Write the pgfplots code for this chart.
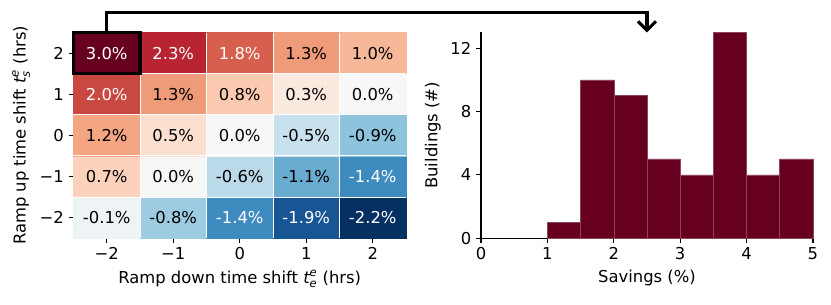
\documentclass[border=0pt]{standalone}
\usepackage{amstext}
\usepackage{fontspec}
\setmainfont{DejaVu Sans}
\usepackage{pgfplots}
\usepackage{pgfplotstable}
\pgfplotsset{compat=1.18}
\usetikzlibrary{arrows.meta}
\definecolor{darkred}{RGB}{103,0,31}
\newcommand\fs{\fontsize{11.8pt}{14pt}\selectfont}

\pgfplotstableread{
x y v t
-2 -2 -0.1 0.4773
-1 -2 -0.8 0.3182
0 -2 -1.4 0.1818
1 -2 -1.9 0.0682
2 -2 -2.2 0
-2 -1 0.7 0.6167
-1 -1 0.0 0.5
0 -1 -0.6 0.3636
1 -1 -1.1 0.25
2 -1 -1.4 0.1818
-2 0 1.2 0.7
-1 0 0.5 0.5833
0 0 0.0 0.5
1 0 -0.5 0.3864
2 0 -0.9 0.2955
-2 1 2.0 0.8333
-1 1 1.3 0.7167
0 1 0.8 0.6333
1 1 0.3 0.55
2 1 0.0 0.5
-2 2 3.0 1
-1 2 2.3 0.8833
0 2 1.8 0.8
1 2 1.3 0.7167
2 2 1.0 0.6667
}\heat

\pgfplotstableread{
x y v
-2 2 3.0
-1 2 2.3
0 2 1.8
-2 1 2.0
0 -2 -1.4
1 -2 -1.9
2 -2 -2.2
2 -1 -1.4
}\heatwhite

\pgfplotstableread{
x y v
1 2 1.3
2 2 1.0
-1 1 1.3
0 1 0.8
1 1 0.3
2 1 0.0
-2 0 1.2
-1 0 0.5
0 0 0.0
1 0 -0.5
2 0 -0.9
-2 -1 0.7
-1 -1 0.0
0 -1 -0.6
1 -1 -1.1
-2 -2 -0.1
-1 -2 -0.8
}\heatblack

\pgfplotstableread{
x n
1.0 1
1.5 10
2.0 9
2.5 5
3.0 4
3.5 13
4.0 4
4.5 5
5.0 5
}\hist

\pgfplotsset{
  common/.style={
    scale only axis,
    anchor=south west,
    tick align=outside,
    tick pos=left,
    major tick length=3.5pt,
    every tick/.style={black, line width=0.8pt},
    axis line style={line width=0.8pt},
    /pgf/number format/assume math mode=true,
    tick label style={font=\fs},
    label style={font=\fs},
  },
  colormap={RdBur}{rgb255(0cm)=(5,48,97); rgb255(1cm)=(33,102,172); rgb255(2cm)=(67,147,195); rgb255(3cm)=(146,197,222); rgb255(4cm)=(209,229,240); rgb255(5cm)=(247,247,247); rgb255(6cm)=(253,219,199); rgb255(7cm)=(244,165,130); rgb255(8cm)=(214,96,77); rgb255(9cm)=(178,24,43); rgb255(10cm)=(103,0,31)},
}

\begin{document}
\begin{tikzpicture}
\useasboundingbox (0,0) rectangle (598.3pt,218.9pt);

\begin{axis}[common,
  at={(52.9pt,47.5pt)},
  width=239.4pt, height=148pt,
  xmin=-2.5, xmax=2.5, ymin=-2.5, ymax=2.5,
  xtick={-2,-1,0,1,2}, ytick={-2,-1,0,1,2},
  xticklabels={−2,−1,0,1,2}, yticklabels={−2,−1,0,1,2},
  xlabel={Ramp down time shift $\textit{t}^{\textit{e}}_{\textit{e}}$ (hrs)},
  ylabel={Ramp up time shift $\textit{t}^{\textit{e}}_{\textit{s}}$ (hrs)},
  colormap name=RdBur,
  point meta min=0, point meta max=1,
  clip=false,
]
\addplot[matrix plot*, mesh/cols=5, point meta=explicit] table[x=x, y=y, meta=t] {\heat};
\addplot[white, line width=0.5pt, unbounded coords=jump] coordinates {
(-1.5,-2.5) (-1.5,2.5) (nan,nan)
(-0.5,-2.5) (-0.5,2.5) (nan,nan)
(0.5,-2.5) (0.5,2.5) (nan,nan)
(1.5,-2.5) (1.5,2.5) (nan,nan)
(-2.5,-1.5) (2.5,-1.5) (nan,nan)
(-2.5,-0.5) (2.5,-0.5) (nan,nan)
(-2.5,0.5) (2.5,0.5) (nan,nan)
(-2.5,1.5) (2.5,1.5)
};
\addplot[only marks, mark=none, point meta=explicit,
  nodes near coords={\pgfmathprintnumber[fixed,fixed zerofill,precision=1,assume math mode=true]{\pgfplotspointmeta}\%},
  nodes near coords align=center,
  every node near coord/.append style={anchor=center, text=white, font=\fs}]
  table[x=x, y=y, meta=v] {\heatwhite};
\addplot[only marks, mark=none, point meta=explicit,
  nodes near coords={\pgfmathprintnumber[fixed,fixed zerofill,precision=1,assume math mode=true]{\pgfplotspointmeta}\%},
  nodes near coords align=center,
  every node near coord/.append style={anchor=center, text=black, font=\fs}]
  table[x=x, y=y, meta=v] {\heatblack};
\addplot[black, line width=2.4pt] coordinates {(-2.5,1.5) (-1.5,1.5) (-1.5,2.5) (-2.5,2.5) (-2.5,1.5)} -- cycle;
\coordinate (A) at (axis cs:-2,2.5);
\end{axis}

\begin{axis}[common,
  at={(346.3pt,47.5pt)},
  width=239pt, height=148pt,
  xmin=0, xmax=5, ymin=0, ymax=13,
  axis x line*=bottom, axis y line*=left,
  xtick={0,1,2,3,4,5}, ytick={0,4,8,12},
  xlabel={Savings (\%)},
  ylabel={Buildings (\#)},
  clip=false,
]
\addplot[ybar interval, fill=darkred, draw={rgb,255:red,140;green,70;blue,95}, line width=0.4pt] table[x=x, y=n] {\hist};
\coordinate (B) at (axis cs:2.5,13);
\end{axis}

\coordinate (T) at (0,209.7pt);
\draw[line width=2.2pt, -{Straight Barb[length=6.5pt,width=13pt]}] (A) -- (A |- T) -- (B |- T) -- (B);
\end{tikzpicture}
\end{document}
